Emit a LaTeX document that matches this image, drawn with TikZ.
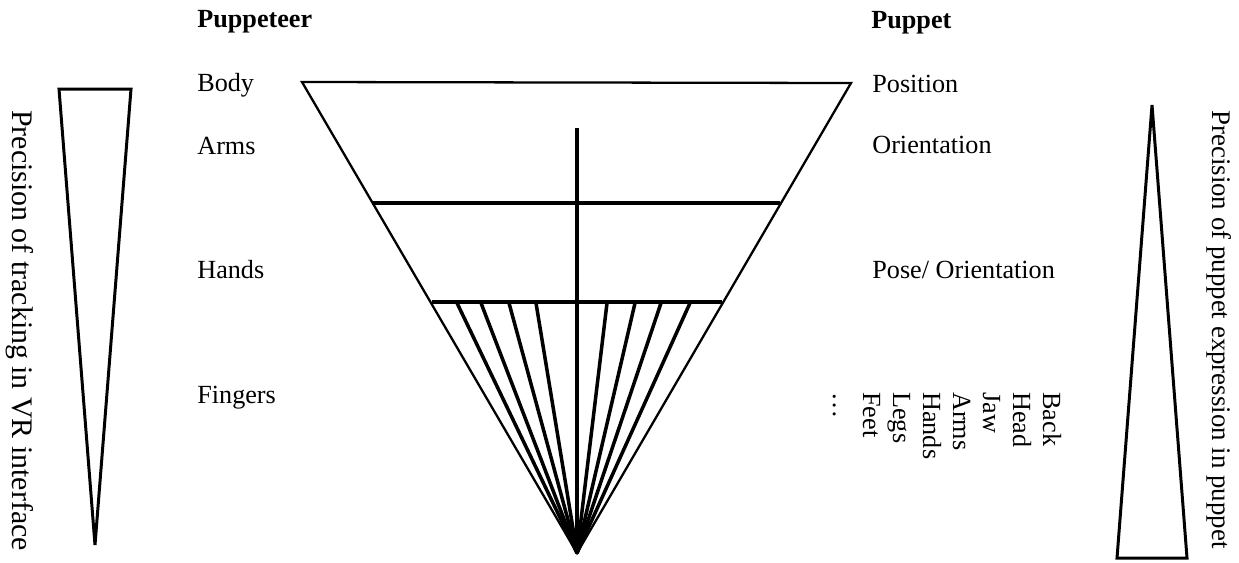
\documentclass[tikz,border=0pt]{standalone}
\usepackage{fontspec}
\setmainfont{Liberation Serif}
\usepackage{tikz}
\usetikzlibrary{positioning}

\begin{document}
\begin{tikzpicture}[x=0.02cm,y=-0.02cm,
    lbl/.style={font=\fontsize{14.9}{17}\selectfont, anchor=base west, inner sep=0pt},
    rlbl/.style={lbl, rotate=-90},
    outline/.style={line width=1.3pt, line join=miter},
    bar/.style={line width=2pt}]
\useasboundingbox (0,0) rectangle (1239,562);
% Funnel
\coordinate (apex) at (577,553);
\coordinate (topL) at (302,82);
\coordinate (topR) at (851,83);
\draw[outline] (topL) -- (topR) -- (apex) -- cycle;
\coordinate (armsL) at (372,203);
\coordinate (armsR) at (780,203);
\coordinate (handsL) at (432,302);
\coordinate (handsR) at (722,302);
\coordinate (spine) at (577,128);
\draw[bar] (armsL) -- (armsR);
\draw[bar] (handsL) -- (handsR);
\draw[bar] (spine) -- (apex);
% Fingers
\foreach \fx in {457,481,509,536,607,635,661,690} {
    \coordinate (finger\fx) at (\fx,303);
    \draw[bar] (finger\fx) -- (apex);
}
% Puppeteer side
\node[lbl, font=\fontsize{14.9}{17}\selectfont\bfseries] (puppeteer) at (197,27) {Puppeteer};
\foreach \y/\name/\txt in {91/body/Body, 154/arms/Arms, 278/hands/Hands, 403/fingers/Fingers} {
    \node[lbl] (\name) at (197,\y) {\txt};
}
% Puppet side
\node[lbl, font=\fontsize{14.9}{17}\selectfont\bfseries] (puppet) at (871,28) {Puppet};
\foreach \y/\name/\txt in {92/position/Position, 153/orient/Orientation, 278/pose/{Pose/ Orientation}} {
    \node[lbl] (\name) at (872,\y) {\txt};
}
\foreach \x/\name/\txt in {1043/back/Back, 1013/head/Head, 983/jaw/Jaw, 953/parms/Arms,
    923/phands/Hands, 893/legs/Legs, 863/feet/Feet, 833/more/\dots} {
    \node[rlbl] (\name) at (\x,392) {\txt};
}
% Precision wedges
\coordinate (trackL) at (59,89);
\coordinate (trackR) at (131,89);
\coordinate (trackTip) at (95,545);
\draw[outline, line width=1.7pt] (trackL) -- (trackR) -- (trackTip) -- cycle;
\node[rlbl, font=\fontsize{17}{19}\selectfont] (tracking) at (12,110) {Precision of tracking in VR interface};
\coordinate (exprTip) at (1152,105);
\coordinate (exprL) at (1117,558);
\coordinate (exprR) at (1187,558);
\draw[outline, line width=1.7pt] (exprTip) -- (exprR) -- (exprL) -- cycle;
\node[rlbl, font=\fontsize{15.3}{17}\selectfont] (expression) at (1212,110) {Precision of puppet expression in puppet};
\end{tikzpicture}
\end{document}
